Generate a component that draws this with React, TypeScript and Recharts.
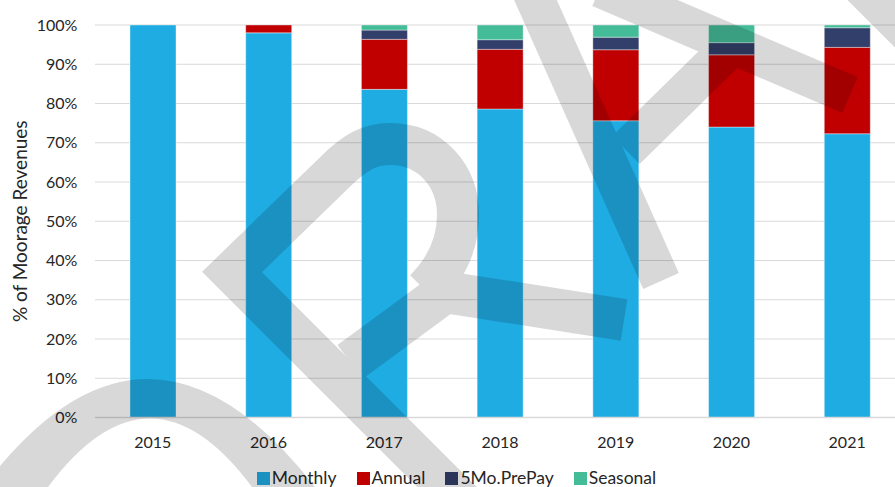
import React from 'react';
import { BarChart, Bar, XAxis, YAxis, CartesianGrid, Legend } from 'recharts';

const years = ['2015', '2016', '2017', '2018', '2019', '2020', '2021'];
const monthly = [100, 98, 83.6, 78.6, 75.6, 74.0, 72.3];
const annual = [0, 2, 12.75, 15.2, 18.1, 18.4, 22.0];
const prePay = [0, 0, 2.35, 2.45, 3.2, 3.1, 5.0];
const seasonal = [0, 0, 1.3, 3.75, 3.1, 4.5, 0.7];
const yTicks = [0, 10, 20, 30, 40, 50, 60, 70, 80, 90, 100];
const seriesOrder = ['Monthly', 'Annual', '5Mo.PrePay', 'Seasonal'];

const data = years.map((y, i) => ({
  year: y,
  Monthly: monthly[i],
  Annual: annual[i],
  '5Mo.PrePay': prePay[i],
  Seasonal: seasonal[i],
}));

const FONT = 'Lato, "Open Sans", sans-serif';
const TEXT = '#262626';

const renderLegend = (props: any) => {
  const payload = [...(props.payload || [])].sort(
    (a: any, b: any) => seriesOrder.indexOf(a.value) - seriesOrder.indexOf(b.value)
  );
  return (
    <div style={{ display: 'flex', justifyContent: 'center', fontFamily: FONT, fontSize: 17.5, color: TEXT, lineHeight: '20px' }}>
      {payload.map((e: any, i: number) => (
        <span key={i} style={{ display: 'inline-flex', alignItems: 'center', marginRight: i < payload.length - 1 ? 20 : 0 }}>
          <span style={{ width: 13, height: 13, background: e.color, marginRight: 2, display: 'inline-block' }} />
          <span>{e.value}</span>
        </span>
      ))}
    </div>
  );
};

const YLabel = (props: any) => {
  const vb = props.viewBox || { x: 0, y: 25, width: 95, height: 392 };
  const cx = vb.x + 19.5;
  const cy = vb.y + vb.height / 2;
  return (
    <text x={cx} y={cy} transform={`rotate(-90, ${cx}, ${cy})`} textAnchor="middle" dominantBaseline="central"
      style={{ fontFamily: FONT, fontSize: 19, fill: TEXT }}>
      % of Moorage Revenues
    </text>
  );
};

const Watermark = () => (
  <svg width={895} height={487} style={{ position: 'absolute', left: 0, top: 0, pointerEvents: 'none' }}>
    <g opacity={0.15}>
      <path d="M 0 487 L 0 466 Q 155 282 315 487 L 252 487 Q 150 350 48 487 Z" fill="#000" />
      <g fill="none" stroke="#000" strokeWidth={42} strokeLinejoin="miter" strokeMiterlimit={10}>
        <path d="M 520 560 L 232 272 L 335 172 C 355 152 370 144 390 144 C 430 144 458 175 458 215 C 458 250 440 275 425 290" />
        <path d="M 350 362 L 445 292 L 624 320" />
      </g>
      <g fill="none" stroke="#000" strokeWidth={39} strokeLinejoin="miter">
        <path d="M 531 -10 L 661 281" />
        <path d="M 600 -12 L 850 95" />
        <path d="M 740 38 L 626 150" />
        <path d="M 860 -15 L 960 85" />
      </g>
    </g>
  </svg>
);

export default function App() {
  return (
    <div style={{ position: 'absolute', left: 0, top: 0, width: 895, height: 487, overflow: 'hidden', background: '#fff' }}>
      <BarChart width={905} height={487} data={data} margin={{ top: 25, right: 0, bottom: 39.5, left: 0 }}
        style={{ fontFamily: FONT }}>
        <CartesianGrid vertical={false} stroke="#d9d9d9" strokeWidth={1.2} />
        <XAxis dataKey="year" height={30} tickSize={0} tickMargin={19} axisLine={{ stroke: '#d9d9d9', strokeWidth: 1.5 }}
          tickLine={false} tick={{ fill: TEXT, fontSize: 16, fontFamily: FONT }} />
        <YAxis width={95} domain={[0, 100]} ticks={yTicks} allowDataOverflow tickSize={0} tickMargin={17.7}
          axisLine={false} tickLine={false} tickFormatter={(v: number) => `${v}%`}
          tick={{ fill: TEXT, fontSize: 16, fontFamily: FONT }} label={<YLabel />} />
        <Legend verticalAlign="middle" align="center" layout="horizontal" content={renderLegend}
          wrapperStyle={{ top: 468, left: 0, width: 913 }} />
        <Bar dataKey="Monthly" stackId="a" fill="#1FACE3" stroke="#ffffff" strokeOpacity={0.5} strokeWidth={0.75} barSize={46} isAnimationActive={false} />
        <Bar dataKey="Annual" stackId="a" fill="#C00000" stroke="#ffffff" strokeOpacity={0.5} strokeWidth={0.75} barSize={46} isAnimationActive={false} />
        <Bar dataKey="5Mo.PrePay" stackId="a" fill="#333F6B" stroke="#ffffff" strokeOpacity={0.5} strokeWidth={0.75} barSize={46} isAnimationActive={false} />
        <Bar dataKey="Seasonal" stackId="a" fill="#45BC98" stroke="#ffffff" strokeOpacity={0.5} strokeWidth={0.75} barSize={46} isAnimationActive={false} />
      </BarChart>
      <Watermark />
    </div>
  );
}
